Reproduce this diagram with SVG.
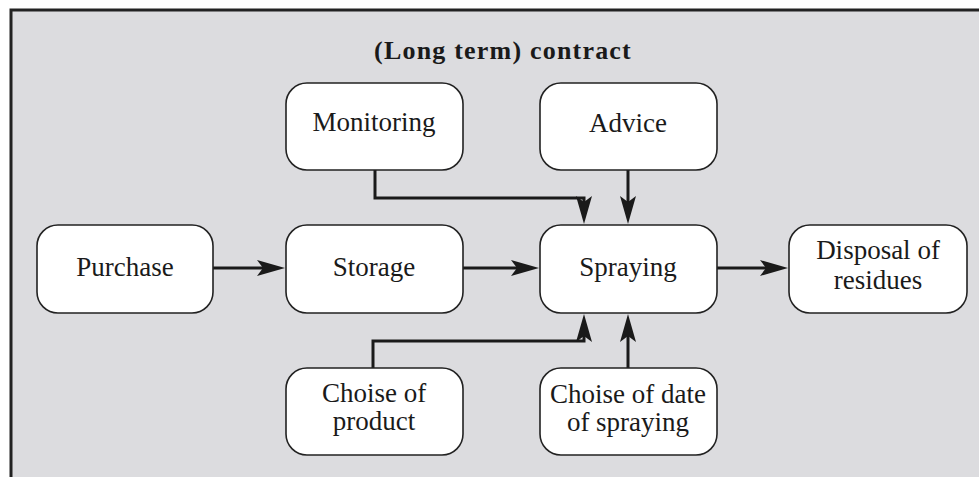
<svg xmlns="http://www.w3.org/2000/svg" width="979" height="477" viewBox="0 0 979 477">
  <style>
    .box { fill: #ffffff; stroke: #222222; stroke-width: 1.6; }
    .lbl { font-family: "Liberation Serif", "Times New Roman", serif; font-size: 27px; fill: #1a1a1a; text-anchor: middle; }
    .title { font-family: "Liberation Serif", "Times New Roman", serif; font-size: 26px; font-weight: bold; fill: #1a1a1a; text-anchor: middle; letter-spacing: 1.2px; }
    .conn { fill: none; stroke: #1a1a1a; stroke-width: 3; stroke-linejoin: miter; }
  </style>
  <defs>
    <marker id="arrow" markerUnits="userSpaceOnUse" markerWidth="32" markerHeight="20" viewBox="-20 -10 32 20" refX="0" refY="0" orient="auto">
      <path d="M10,0 L-18,-8 L-12,0 L-18,8 Z" fill="#1a1a1a"/>
    </marker>
  </defs>

  <!-- frame -->
  <rect x="11" y="10" width="990" height="490" fill="#dcdcdf" stroke="#222222" stroke-width="3"/>

  <text class="title" x="503" y="59">(Long term) contract</text>

  <!-- connectors -->
  <g id="connectors">
    <path class="conn" d="M375,170 V198 H584 V214" marker-end="url(#arrow)"/>
    <path class="conn" d="M628,170 V214" marker-end="url(#arrow)"/>
    <path class="conn" d="M213,268 H275" marker-end="url(#arrow)"/>
    <path class="conn" d="M463,268 H529" marker-end="url(#arrow)"/>
    <path class="conn" d="M717,268 H778" marker-end="url(#arrow)"/>
    <path class="conn" d="M373,368 V341 H584 V324" marker-end="url(#arrow)"/>
    <path class="conn" d="M628,368 V324" marker-end="url(#arrow)"/>
  </g>

  <!-- nodes -->
  <g id="monitoring">
    <rect class="box" x="286" y="83" width="177" height="87" rx="21"/>
    <text class="lbl" x="374" y="131">Monitoring</text>
  </g>
  <g id="advice">
    <rect class="box" x="540" y="83" width="177" height="87" rx="21"/>
    <text class="lbl" x="628" y="132">Advice</text>
  </g>
  <g id="purchase">
    <rect class="box" x="37" y="225" width="176" height="88" rx="21"/>
    <text class="lbl" x="125" y="276">Purchase</text>
  </g>
  <g id="storage">
    <rect class="box" x="286" y="225" width="177" height="88" rx="21"/>
    <text class="lbl" x="374" y="276">Storage</text>
  </g>
  <g id="spraying">
    <rect class="box" x="540" y="225" width="177" height="88" rx="21"/>
    <text class="lbl" x="628" y="276">Spraying</text>
  </g>
  <g id="disposal">
    <rect class="box" x="789" y="225" width="178" height="88" rx="21"/>
    <text class="lbl"><tspan x="878" y="259">Disposal of</tspan><tspan x="878" y="289">residues</tspan></text>
  </g>
  <g id="choise-product">
    <rect class="box" x="286" y="368" width="177" height="87" rx="21"/>
    <text class="lbl"><tspan x="374" y="402">Choise of</tspan><tspan x="374" y="430">product</tspan></text>
  </g>
  <g id="choise-date">
    <rect class="box" x="540" y="368" width="177" height="87" rx="21"/>
    <text class="lbl"><tspan x="628" y="403">Choise of date</tspan><tspan x="628" y="431">of spraying</tspan></text>
  </g>
</svg>
